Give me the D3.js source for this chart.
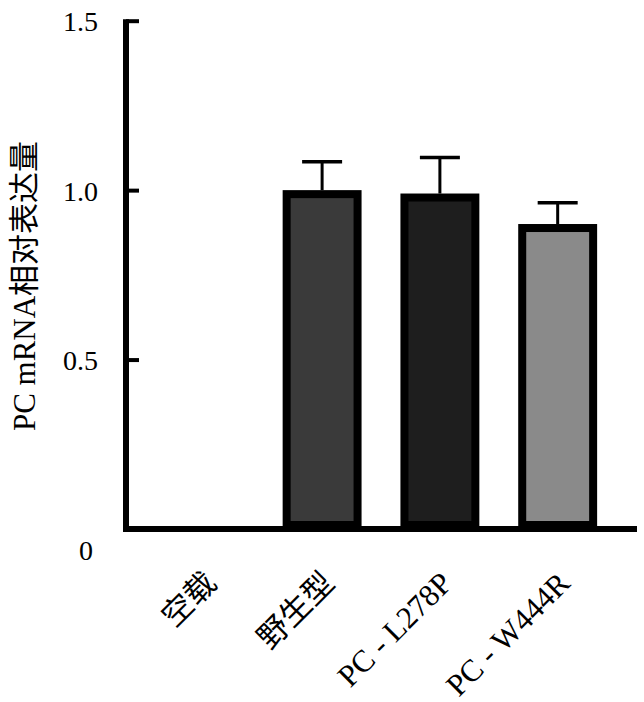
<!DOCTYPE html>
<html>
<head>
<meta charset="utf-8">
<script src="https://cdn.jsdelivr.net/npm/d3@7"></script>
<style>
  body { margin: 0; background: #fff; }
  text { font-family: "Liberation Serif", "Noto Sans CJK SC", serif; fill: #000; }
</style>
</head>
<body>
<svg id="chart" width="644" height="702"></svg>
<script>
const groups = ["空载", "野生型", "PC - L278P", "PC - W444R"];
const means = [0, 1.0, 0.99, 0.90];
const errors = [0, 0.084, 0.106, 0.063];
const fills = ["#ffffff", "#3a3a3a", "#1e1e1e", "#8a8a8a"];
const yTicks = [0, 0.5, 1.0, 1.5];

const data = groups.map((g, i) => ({ group: g, mean: means[i], err: errors[i], fill: fills[i] }));

const svg = d3.select("#chart");
const x0 = 126, x1 = 636, yBottom = 529, yTop = 20.7;

const x = d3.scaleBand().domain(groups).range([x0, x1]).padding(0.33);
const y = d3.scaleLinear().domain([0, 1.5]).range([yBottom, yTop]);

// bars with thick black border drawn inside
const border = 8;
svg.selectAll("rect.bar")
    .data(data.filter(d => d.mean > 0))
    .enter()
    .append("rect")
    .attr("class", "bar")
    .attr("x", d => x(d.group) + border / 2)
    .attr("y", d => y(d.mean) + border / 2)
    .attr("width", x.bandwidth() - border)
    .attr("height", d => yBottom - y(d.mean) - border)
    .attr("fill", d => d.fill)
    .attr("stroke", "#000")
    .attr("stroke-width", border);

// error bars (upper only)
const eb = svg.selectAll("g.err")
    .data(data.filter(d => d.err > 0))
    .enter()
    .append("g")
    .attr("class", "err");

eb.append("line")
    .attr("x1", d => x(d.group) + x.bandwidth() / 2)
    .attr("x2", d => x(d.group) + x.bandwidth() / 2)
    .attr("y1", d => y(d.mean))
    .attr("y2", d => y(d.mean + d.err))
    .attr("stroke", "#000")
    .attr("stroke-width", 3);

eb.append("line")
    .attr("x1", d => x(d.group) + x.bandwidth() / 2 - 20)
    .attr("x2", d => x(d.group) + x.bandwidth() / 2 + 20)
    .attr("y1", d => y(d.mean + d.err))
    .attr("y2", d => y(d.mean + d.err))
    .attr("stroke", "#000")
    .attr("stroke-width", 3.5);

// y axis, ticks pointing inward
const yAxis = svg.append("g")
    .attr("transform", `translate(${x0},0)`)
    .call(d3.axisLeft(y)
        .tickValues(yTicks)
        .tickSizeInner(-13)
        .tickSizeOuter(0)
        .tickPadding(28)
        .tickFormat(d => d === 0 ? "0" : d3.format(".1f")(d)));

yAxis.select(".domain").attr("stroke-width", 6).attr("d", `M0,${yBottom + 3}V${yTop - 1.5}`);
yAxis.selectAll(".tick line").attr("stroke-width", 4);
yAxis.selectAll(".tick text")
    .style("font-size", "28px")
    .style("font-family", "'Liberation Serif', serif")
    .attr("dy", "0.36em");
yAxis.selectAll(".tick").filter(d => d === 0)
    .select("text")
    .attr("x", -33)
    .attr("y", 20);

// x axis line
svg.append("line")
    .attr("x1", x0 - 3)
    .attr("x2", x1 + 1)
    .attr("y1", yBottom)
    .attr("y2", yBottom)
    .attr("stroke", "#000")
    .attr("stroke-width", 6);

// rotated category labels
svg.selectAll("text.xlab")
    .data(groups)
    .enter()
    .append("text")
    .attr("class", "xlab")
    .attr("text-anchor", "end")
    .attr("transform", d => `translate(${x(d) + x.bandwidth() / 2 + 14},585) rotate(-45)`)
    .style("font-size", "31px")
    .text(d => d);

// y axis title
svg.append("text")
    .attr("transform", "translate(35,286) rotate(-90)")
    .attr("text-anchor", "middle")
    .style("font-size", "31px")
    .text("PC mRNA相对表达量");
</script>
</body>
</html>
